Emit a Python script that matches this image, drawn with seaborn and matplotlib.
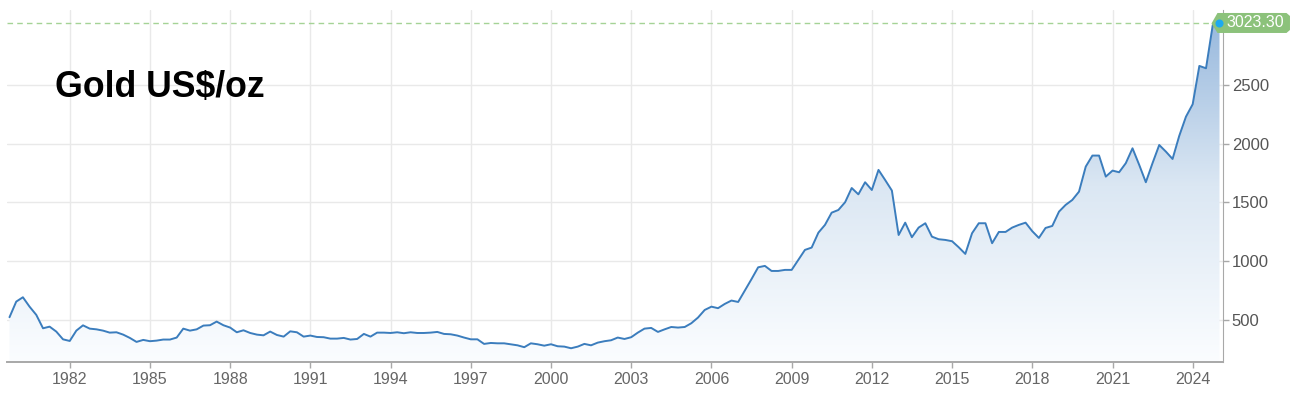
import numpy as np
import pandas as pd
import seaborn as sns
import matplotlib.pyplot as plt
import matplotlib.dates as mdates
import matplotlib.transforms as mtransforms
from matplotlib.colors import LinearSegmentedColormap
from matplotlib.patches import PathPatch, Polygon

# quarterly gold price (US$/oz), starting 1979 Q4
gold_1979_1987 = [523, 656, 693, 613, 543, 429, 443, 401, 335, 321, 409, 454, 426, 420, 409, 392,
                  395, 375, 347, 313, 330, 319, 324, 333, 333, 350, 426, 409, 420, 452, 455, 486]
gold_1987_1995 = [455, 435, 395, 412, 389, 375, 369, 401, 372, 358, 403, 395, 358, 367, 355, 353,
                  341, 341, 347, 333, 338, 381, 358, 392, 392, 389, 395, 387, 395, 389]
gold_1995_2003 = [389, 392, 398, 381, 378, 367, 350, 335, 335, 296, 304, 301, 301, 293, 284, 268,
                  301, 293, 281, 293, 276, 273, 259, 273, 296, 284, 307, 319, 327, 350, 338, 353]
gold_2003_2010 = [392, 426, 432, 398, 420, 440, 435, 440, 472, 520, 585, 613, 600, 636, 665, 653,
                  749, 846, 948, 960, 917, 917, 926, 926, 1011, 1096, 1116, 1243, 1309, 1413, 1436]
gold_2011_2018 = [1502, 1623, 1569, 1672, 1606, 1777, 1691, 1601, 1223, 1328, 1204, 1286, 1323, 1209,
                  1187, 1181, 1170, 1119, 1062, 1238, 1323, 1323, 1153, 1249, 1249, 1286, 1309, 1328,
                  1255, 1198, 1283, 1300]
gold_2019_2025 = [1422, 1479, 1521, 1592, 1805, 1899, 1899, 1720, 1771, 1757, 1834, 1961, 1819, 1672,
                  1834, 1989, 1932, 1870, 2066, 2230, 2336, 2662, 2642, 3010, 3023.30]

tick_years = [1982, 1985, 1988, 1991, 1994, 1997, 2000, 2003, 2006, 2009, 2012, 2015, 2018, 2021, 2024]
y_ticks = [500, 1000, 1500, 2000, 2500]
title = "Gold US$/oz"

prices = (gold_1979_1987 + gold_1987_1995 + gold_1995_2003 +
          gold_2003_2010 + gold_2011_2018 + gold_2019_2025)
dates = pd.date_range("1979-10-01", periods=len(prices), freq="QS")
df = pd.DataFrame({"date": dates, "price": prices})

sns.set_style("white")
plt.rcParams['font.family'] = ['Liberation Sans', 'DejaVu Sans']

W, H = 1294, 399
fig = plt.figure(figsize=(W / 100, H / 100), dpi=100)
ax = fig.add_axes([7.3 / W, 37 / H, (1222.7 - 7.3) / W, (362 - 10) / H])

ymin, ymax = 142, 3138
xmin, xmax = pd.Timestamp("1979-09-01"), pd.Timestamp("2025-02-14")

# gradient area under the line
fill = ax.fill_between(df["date"], df["price"], ymin, color="none", linewidth=0)
cmap = LinearSegmentedColormap.from_list("gold_fill", ["#fbfdff", "#dbe7f3", "#94b6dc"])
grad = np.linspace(0, 1, 256).reshape(-1, 1)
im = ax.imshow(grad, aspect="auto", cmap=cmap, origin="lower", zorder=1,
               extent=[mdates.date2num(xmin), mdates.date2num(xmax), ymin, ymax])
clip = PathPatch(fill.get_paths()[0], transform=ax.transData, facecolor="none", edgecolor="none")
ax.add_patch(clip)
im.set_clip_path(clip)

sns.lineplot(data=df, x="date", y="price", ax=ax, color="#3b7dbd", linewidth=1.4, zorder=3)

last_x, last_y = df["date"].iloc[-1], df["price"].iloc[-1]
ax.axhline(last_y, color="#a5d396", linewidth=1.0, dashes=(4, 3), zorder=2)

ax.set_xlim(xmin, xmax)
ax.set_ylim(ymin, ymax)
ax.set_xticks([pd.Timestamp(f"{y}-01-01") for y in tick_years])
ax.set_xticklabels([str(y) for y in tick_years])
ax.set_yticks(y_ticks)
ax.yaxis.tick_right()
ax.set_xlabel("")
ax.set_ylabel("")
ax.grid(True, color="#e9e9e9", linewidth=1.0)
ax.set_axisbelow(True)
ax.tick_params(axis="x", length=4.5, width=1, color="#a8a8a8", labelcolor="#666666",
               labelsize=11.5, pad=3, bottom=True)
ax.tick_params(axis="y", length=4.5, width=1, color="#a8a8a8", labelcolor="#555555",
               labelsize=12, pad=2, right=True, left=False)
for s in ["top", "left"]:
    ax.spines[s].set_visible(False)
ax.spines["right"].set_color("#a8a8a8")
ax.spines["bottom"].set_color("#a8a8a8")
ax.spines["bottom"].set_linewidth(1.4)

# last value tag and marker
px, py = ax.transData.transform((mdates.date2num(last_x), last_y))
tag_pts = [(-8, 0), (-2, 10.5), (67, 10.5), (70.5, 7.5), (70.5, -6.5), (67, -9.5), (-2, -9.5)]
tag = Polygon(tag_pts, closed=True, facecolor="#8cc27b", edgecolor="none", zorder=5,
              transform=mtransforms.Affine2D().translate(px, py), clip_on=False)
ax.add_patch(tag)
ax.scatter([last_x], [last_y], s=34, color="#1eaaef", zorder=7, clip_on=False, linewidths=0)
ax.annotate(f"{last_y:.2f}", xy=(last_x, last_y), xytext=(7, 0.5), textcoords="offset pixels",
            color="white", fontsize=11.5, ha="left", va="center", zorder=8, annotation_clip=False)

fig.text(55 / W, 1 - 97.3 / H, title, fontsize=25.7, fontweight="bold", color="black",
         ha="left", va="baseline")

fig.savefig("out.png", dpi=100)
